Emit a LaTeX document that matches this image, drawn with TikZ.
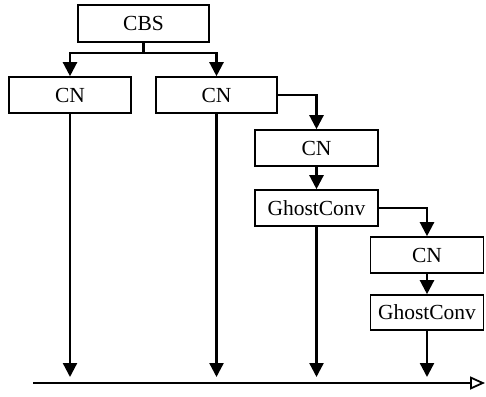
\documentclass[tikz,border=0pt]{standalone}
\usepackage{fontspec}
\setmainfont{Liberation Serif}
\usetikzlibrary{arrows.meta}
\begin{document}
\begin{tikzpicture}[x=1pt,y=-1pt,
  blk/.style={draw,line width=1.6pt,minimum height=36pt,inner sep=0pt,font=\fontsize{21.5}{25}\selectfont},
  conn/.style={line width=2.3pt,-{Triangle[length=14pt,width=14pt]}},
  axisline/.style={line width=2.2pt,-{Triangle[open,length=15pt,width=13pt,line width=1.8pt]}}]
\useasboundingbox (0,0) rectangle (486,396);
\node[blk,minimum width=131pt,minimum height=37pt] (cbs) at (143.5,23.5) {CBS};
\node[blk,minimum width=122pt] (cn1) at (70,95) {CN};
\node[blk,minimum width=121pt] (cn2) at (216.5,95) {CN};
\node[blk,minimum width=123pt] (cn3) at (316.5,148) {CN};
\node[blk,minimum width=123pt] (g1) at (316.5,208) {GhostConv};
\node[blk,minimum width=113pt] (cn4) at (427,255) {CN};
\node[blk,minimum width=113pt,minimum height=35pt] (g2) at (427,312.5) {GhostConv};
\coordinate (br) at (143.5,53);
\coordinate (a0) at (33,383);
\coordinate (a5) at (485,383);
\coordinate (t1) at (70,377);
\coordinate (t2) at (216.5,377);
\coordinate (t3) at (316.5,377);
\coordinate (t4) at (427,377);
\draw[line width=2.3pt] (cbs.south) -- (br);
\draw[conn] (br) -| (cn1.north);
\draw[conn] (br) -| (cn2.north);
\draw[conn] (cn2.east) -| (cn3.north);
\draw[conn] (cn3.south) -- (g1.north);
\draw[conn] (g1.east) -| (cn4.north);
\draw[conn] (cn4.south) -- (g2.north);
\draw[conn] (cn1.south) -- (t1);
\draw[conn] (cn2.south) -- (t2);
\draw[conn] (g1.south) -- (t3);
\draw[conn] (g2.south) -- (t4);
\draw[axisline] (a0) -- (a5);
\end{tikzpicture}
\end{document}
